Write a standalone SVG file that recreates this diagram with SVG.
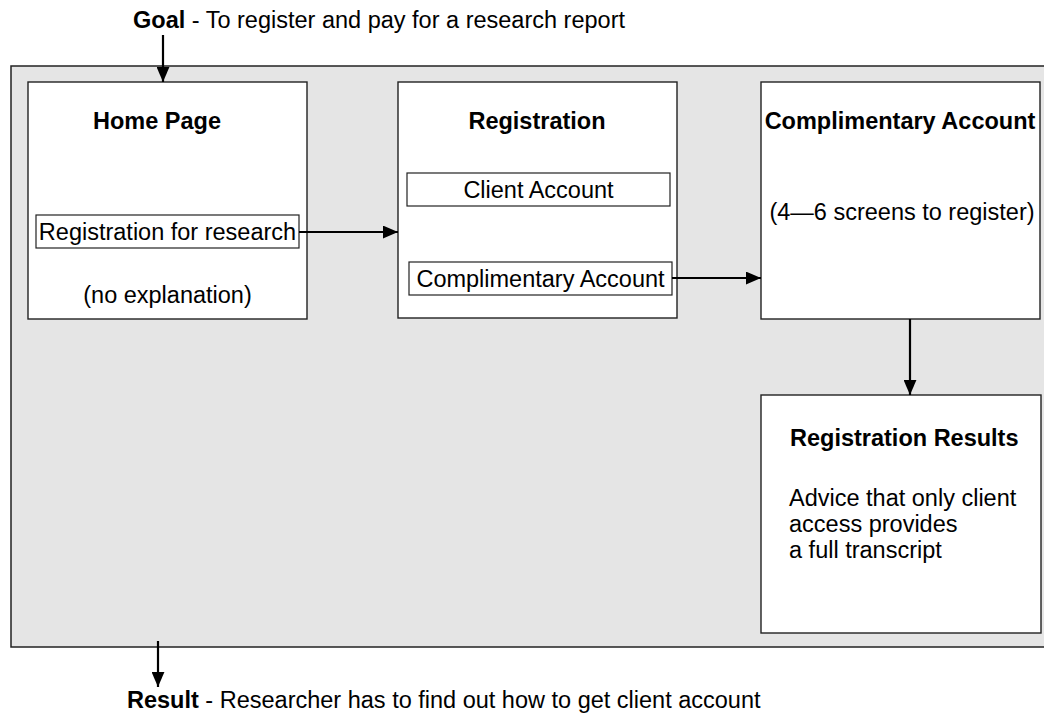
<svg xmlns="http://www.w3.org/2000/svg" width="1044" height="719" viewBox="0 0 1044 719">
  <style>
    text { font-family: "Liberation Sans", Arial, Helvetica, sans-serif; font-size: 23.5px; fill: #000; }
    .b { font-weight: bold; }
    .panel { fill: #e5e5e5; stroke: #222; stroke-width: 1.5; }
    .box { fill: #fff; stroke: #222; stroke-width: 1.4; }
    .field { fill: #fff; stroke: #222; stroke-width: 1.2; }
    .arrow { fill: none; stroke: #000; stroke-width: 2.2; marker-end: url(#head); }
  </style>
  <defs>
    <marker id="head" viewBox="0 0 14 12" refX="14" refY="6" markerWidth="15" markerHeight="13" markerUnits="userSpaceOnUse" orient="auto">
      <path d="M0,0 L14,6 L0,12 Z" fill="#000"/>
    </marker>
  </defs>

  <rect fill="#fff" x="0" y="0" width="1044" height="719"/>

  <!-- goal caption -->
  <text x="133" y="28"><tspan class="b">Goal</tspan> - To register and pay for a research report</text>

  <!-- grey site panel -->
  <rect class="panel" x="11" y="66" width="1040" height="581"/>

  <g id="home-page">
    <rect class="box" x="28" y="82" width="279" height="237"/>
    <text class="b" x="93" y="129">Home Page</text>
    <rect class="field" x="36" y="215" width="263" height="33"/>
    <text x="167.5" y="240" text-anchor="middle">Registration for research</text>
    <text x="167.5" y="303" text-anchor="middle">(no explanation)</text>
  </g>

  <g id="registration">
    <rect class="box" x="398" y="82" width="279" height="236"/>
    <text class="b" x="537" y="129" text-anchor="middle">Registration</text>
    <rect class="field" x="407" y="173" width="263" height="33"/>
    <text x="538.5" y="198" text-anchor="middle">Client Account</text>
    <rect class="field" x="409" y="262" width="263" height="33"/>
    <text x="540.5" y="287" text-anchor="middle">Complimentary Account</text>
  </g>

  <g id="complimentary-account">
    <rect class="box" x="761" y="82" width="279" height="237"/>
    <text class="b" x="900" y="129" text-anchor="middle">Complimentary Account</text>
    <text x="902" y="220" text-anchor="middle">(4—6 screens to register)</text>
  </g>

  <g id="registration-results">
    <rect class="box" x="761" y="395" width="280" height="238"/>
    <text class="b" x="790" y="446">Registration Results</text>
    <text x="789" y="506">Advice that only client</text>
    <text x="789" y="532">access provides</text>
    <text x="789" y="558">a full transcript</text>
  </g>

  <!-- result caption -->
  <text x="127" y="708"><tspan class="b">Result</tspan> - Researcher has to find out how to get client account</text>

  <g id="connectors">
    <line class="arrow" x1="163" y1="35" x2="163" y2="82"/>
    <line class="arrow" x1="299" y1="232" x2="398" y2="232"/>
    <line class="arrow" x1="672" y1="278" x2="761" y2="278"/>
    <line class="arrow" x1="910" y1="319" x2="910" y2="395"/>
    <line class="arrow" x1="158" y1="641" x2="158" y2="687"/>
  </g>
</svg>
